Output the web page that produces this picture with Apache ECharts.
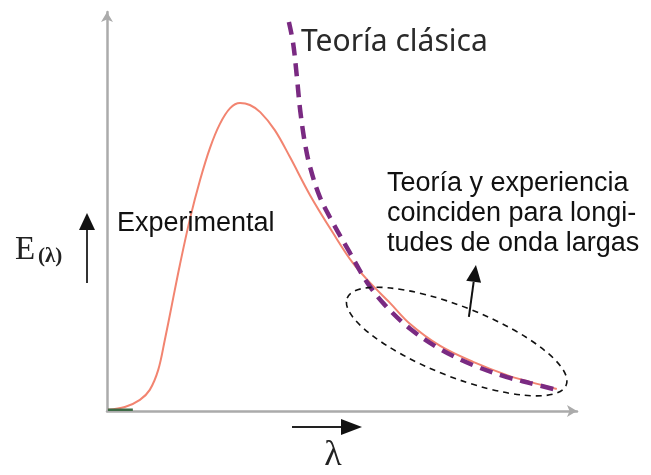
<!DOCTYPE html>
<html>
<head>
<meta charset="utf-8">
<script src="https://cdn.jsdelivr.net/npm/echarts@6/dist/echarts.min.js"></script>
<style>html,body{margin:0;padding:0;background:#fff;}#c{width:651px;height:475px;}</style>
</head>
<body>
<div id="c"></div>
<script>
// wavelength (arbitrary units) and energy (arbitrary units)
var expX = [0.2, 3.8, 7.0, 9.1, 10.9, 12.3, 13.8, 15.5, 17.7, 19.8, 21.9, 24.0, 26.2, 28.3, 30.4, 32.6, 35.7, 38.9, 43.2, 48.1, 52.3, 56.0, 60.2, 64.5, 70.9, 77.9, 85.1, 90.0, 95.7];
var expY = [0.3, 1.0, 2.8, 5.3, 10.3, 17.8, 26.6, 36.6, 48.4, 57.9, 65.9, 71.9, 75.9, 77.2, 76.7, 74.9, 70.4, 63.7, 54.1, 44.6, 37.1, 32.1, 27.1, 21.8, 16.3, 12.3, 9.0, 7.3, 5.5];
var clasX = [38.7, 39.6, 40.4, 41.1, 42.1, 43.2, 45.3, 48.1, 51.7, 55.3, 59.1, 64.5, 70.9, 77.9, 85.1, 90.0, 95.7];
var clasY = [97.5, 92.2, 83.7, 75.4, 67.2, 61.2, 53.6, 47.1, 39.6, 32.3, 26.6, 20.6, 15.5, 11.5, 8.5, 7.0, 5.3];
var baseX = [0.2, 5.5];
var baseY = [0.3, 0.3];
var labelExp = 'Experimental';
var labelClas = 'Teoría clásica';
var noteLines = ['Teoría y experiencia', 'coinciden para longi-', 'tudes de onda largas'];
var axisYLabel = 'E';
var axisYSub = '(λ)';
var axisXLabel = 'λ';
// annotation anchors in data units
var ellipseA = [51.1, 28.3];   // one end of the major axis
var ellipseB = [97.7, 6.5];    // other end
var arrowFrom = [77.0, 23.6];
var arrowTo = [78.5, 36.6];

function zip(a, b) { return a.map(function (v, i) { return [v, b[i]]; }); }

var chart = echarts.init(document.getElementById('c'), null, {renderer: 'canvas'});
var option = {
  backgroundColor: '#ffffff',
  animation: false,
  grid: {left: 107, top: 12, right: 74, bottom: 64, containLabel: false},
  xAxis: {
    type: 'value', min: 0, max: 100,
    axisLine: {show: true, lineStyle: {color: '#ababab', width: 2.5}, symbol: ['none', 'arrow'], symbolSize: [9, 10]},
    axisTick: {show: false}, axisLabel: {show: false}, splitLine: {show: false}
  },
  yAxis: {
    type: 'value', min: 0, max: 100,
    axisLine: {show: true, lineStyle: {color: '#ababab', width: 2.5}, symbol: ['none', 'arrow'], symbolSize: [9, 10]},
    axisTick: {show: false}, axisLabel: {show: false}, splitLine: {show: false}
  },
  series: [
    {type: 'line', data: zip(expX, expY), smooth: 0.35, showSymbol: false,
     lineStyle: {color: '#f28470', width: 2}, z: 3},
    {type: 'line', data: zip(clasX, clasY), smooth: 0.35, showSymbol: false,
     lineStyle: {color: '#7a2a82', width: 4.5, type: [13, 8]}, z: 4},
    {type: 'line', data: zip(baseX, baseY), showSymbol: false,
     lineStyle: {color: '#3d6b45', width: 2.5}, z: 5}
  ]
};
chart.setOption(option);

function px(p) { return chart.convertToPixel({gridIndex: 0}, p); }
var pa = px(ellipseA), pb = px(ellipseB);
var ecx = (pa[0] + pb[0]) / 2, ecy = (pa[1] + pb[1]) / 2;
var erx = Math.hypot(pb[0] - pa[0], pb[1] - pa[1]) / 2;
var ery = 35;
var eang = Math.atan2(pb[1] - pa[1], pb[0] - pa[0]);
var af = px(arrowFrom), at = px(arrowTo);
var adx = at[0] - af[0], ady = at[1] - af[1], alen = Math.hypot(adx, ady);
var ux = adx / alen, uy = ady / alen;
var hl = 17, hw = 7.5;
var hb = [at[0] - ux * hl, at[1] - uy * hl];

var textBlack = '#111';
var sans = '27px "Liberation Sans", Arial, sans-serif';
chart.setOption({
  graphic: [
    {type: 'ellipse', x: ecx, y: ecy, rotation: -eang,
     shape: {cx: 0, cy: 0, rx: erx, ry: ery},
     style: {fill: 'none', stroke: '#111', lineWidth: 1.6, lineDash: [6, 5]}, z: 10},
    {type: 'line', shape: {x1: af[0], y1: af[1], x2: hb[0], y2: hb[1]},
     style: {stroke: '#111', lineWidth: 2}, z: 10},
    {type: 'polygon', shape: {points: [[at[0], at[1]], [hb[0] - uy * hw, hb[1] + ux * hw], [hb[0] + uy * hw, hb[1] - ux * hw]]},
     style: {fill: '#111'}, z: 10},
    {type: 'text', x: 117, y: 224, style: {text: labelExp, font: sans, fill: textBlack, verticalAlign: 'middle'}, z: 10},
    {type: 'text', x: 301, y: 42, style: {text: labelClas, font: '30px "Noto Sans", sans-serif', fill: '#2a2a2a', verticalAlign: 'middle'}, z: 10},
    {type: 'text', x: 387, y: 184, style: {text: noteLines[0], font: sans, fill: textBlack, verticalAlign: 'middle'}, z: 10},
    {type: 'text', x: 387, y: 214, style: {text: noteLines[1], font: sans, fill: textBlack, verticalAlign: 'middle'}, z: 10},
    {type: 'text', x: 387, y: 244, style: {text: noteLines[2], font: sans, fill: textBlack, verticalAlign: 'middle'}, z: 10},
    {type: 'text', x: 15, y: 250, style: {text: axisYLabel, font: '33px "Liberation Serif", serif', fill: '#222', verticalAlign: 'middle'}, z: 10},
    {type: 'text', x: 38, y: 257, style: {text: axisYSub, font: 'bold 21px "Liberation Serif", serif', fill: '#222', verticalAlign: 'middle'}, z: 10},
    {type: 'line', shape: {x1: 87, y1: 283, x2: 87, y2: 228}, style: {stroke: '#333', lineWidth: 2}, z: 10},
    {type: 'polygon', shape: {points: [[87, 213], [79, 230], [95, 230]]}, style: {fill: '#111'}, z: 10},
    {type: 'line', shape: {x1: 292, y1: 427, x2: 345, y2: 427}, style: {stroke: '#222', lineWidth: 2}, z: 10},
    {type: 'polygon', shape: {points: [[362, 427], [341, 419], [341, 435]]}, style: {fill: '#111'}, z: 10},
    {type: 'text', x: 333, y: 456, style: {text: axisXLabel, font: '36px "Liberation Serif", serif', fill: '#222', align: 'center', verticalAlign: 'middle'}, z: 10}
  ]
});
</script>
</body>
</html>
